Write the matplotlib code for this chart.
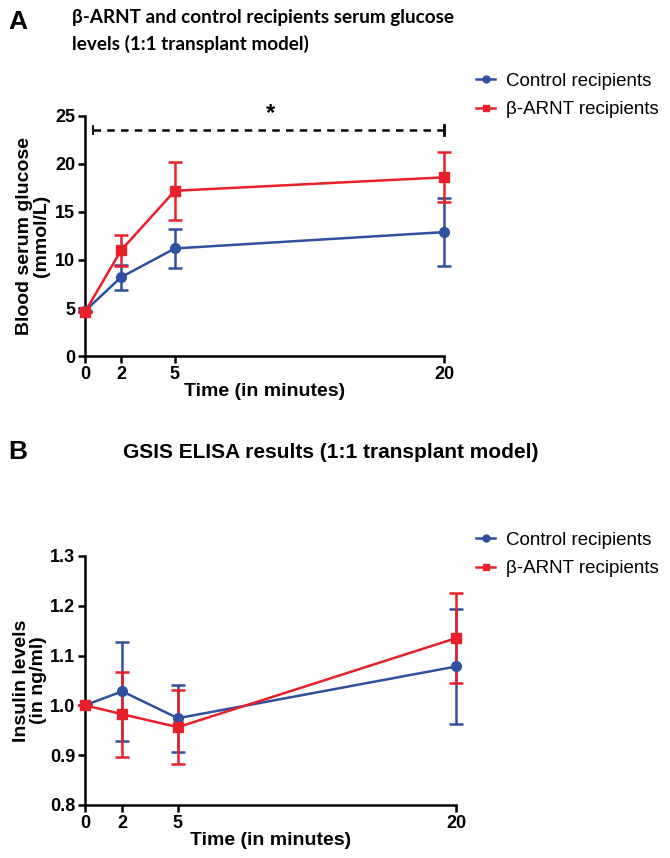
import numpy as np
import matplotlib.pyplot as plt
from matplotlib.lines import Line2D

plt.rcParams['font.family'] = ['Liberation Sans', 'DejaVu Sans']

# --- data ---
time_min = [0, 2, 5, 20]

# panel A: serum glucose (mmol/L)
glu_ctrl = [4.7, 8.2, 11.2, 12.9]
glu_ctrl_err = [0.0, 1.3, 2.0, 3.5]
glu_arnt = [4.6, 11.0, 17.2, 18.6]
glu_arnt_err = [0.0, 1.6, 3.0, 2.6]

# panel B: insulin (ng/ml)
ins_ctrl = [1.0, 1.028, 0.974, 1.078]
ins_ctrl_err = [0.0, 0.099, 0.067, 0.115]
ins_arnt = [1.0, 0.982, 0.956, 1.135]
ins_arnt_err = [0.0, 0.085, 0.075, 0.09]

labels = ['Control recipients', '\u03b2-ARNT recipients']
BLUE = '#2f4f9f'
RED = '#e8202a'

fig = plt.figure(figsize=(6.7, 8.58), dpi=100)


def style_axes(ax):
    for s in ['top', 'right']:
        ax.spines[s].set_visible(False)
    for s in ['left', 'bottom']:
        ax.spines[s].set_linewidth(1.8)
    ax.tick_params(width=1.8, length=5, labelsize=13, pad=2)
    for t in ax.get_xticklabels() + ax.get_yticklabels():
        t.set_fontweight('bold')
    ax.set_xlabel('Time (in minutes)', fontsize=14, fontweight='bold', labelpad=0)


def draw_series(ax, y, err, color, marker):
    ax.errorbar(time_min, y, yerr=err, color=color, marker=marker, markersize=7,
                linewidth=1.8, elinewidth=1.8, capsize=5, capthick=1.8,
                clip_on=False, zorder=3)


def add_legend(y_top):
    handles = [Line2D([], [], color=BLUE, marker='o', markersize=5, linewidth=1.8),
               Line2D([], [], color=RED, marker='s', markersize=5, linewidth=1.8)]
    fig.legend(handles, labels, loc='upper left', bbox_to_anchor=(0.697, y_top),
               frameon=False, fontsize=13.5, handlelength=1.0, handletextpad=0.6,
               labelspacing=0.6, borderpad=0)


# --- Panel A ---
axA = fig.add_axes([0.127, 0.585, 0.536, 0.28])
draw_series(axA, glu_ctrl, glu_ctrl_err, BLUE, 'o')
draw_series(axA, glu_arnt, glu_arnt_err, RED, 's')
axA.set_xlim(0, 20)
axA.set_ylim(0, 25)
axA.set_xticks(time_min)
axA.set_yticks([0, 5, 10, 15, 20, 25])
style_axes(axA)
axA.set_ylabel('Blood serum glucose\n(mmol/L)', fontsize=14, fontweight='bold',
               labelpad=4, linespacing=1.0)

# significance bracket
axA.plot([0.45, 20], [23.5, 23.5], 'k--', linewidth=1.8, dashes=(3, 2.5), clip_on=False)
axA.plot([0.45, 0.45], [23.1, 23.9], 'k-', linewidth=1.3, clip_on=False)
axA.plot([20, 20], [23.0, 24.0], 'k-', linewidth=2.0, clip_on=False)
axA.text(10.3, 24.0, '*', ha='center', va='bottom', fontsize=17, fontweight='bold')

add_legend(0.926)

fig.text(0.012, 0.988, 'A', fontsize=19, fontweight='bold', va='top', ha='left')
fig.text(0.107, 0.99, '\u03b2-ARNT and control recipients serum glucose\nlevels (1:1 transplant model)',
         family=['Lato', 'Liberation Sans', 'DejaVu Sans'],
         fontsize=13.6, fontweight='bold', va='top', ha='left', linespacing=1.6)

# --- Panel B ---
axB = fig.add_axes([0.127, 0.062, 0.554, 0.29])
draw_series(axB, ins_ctrl, ins_ctrl_err, BLUE, 'o')
draw_series(axB, ins_arnt, ins_arnt_err, RED, 's')
axB.set_xlim(0, 20)
axB.set_ylim(0.8, 1.3)
axB.set_xticks(time_min)
axB.set_yticks([0.8, 0.9, 1.0, 1.1, 1.2, 1.3])
axB.set_yticklabels(['0.8', '0.9', '1.0', '1.1', '1.2', '1.3'])
style_axes(axB)
axB.set_ylabel('Insulin levels\n(in ng/ml)', fontsize=14, fontweight='bold',
               labelpad=2, linespacing=1.0)

add_legend(0.391)

fig.text(0.012, 0.473, 'B', fontsize=19, fontweight='bold', va='center', ha='left')
fig.text(0.493, 0.473, 'GSIS ELISA results (1:1 transplant model)',
         fontsize=15, fontweight='bold', va='center', ha='center')

fig.savefig('out.png', dpi=100)
